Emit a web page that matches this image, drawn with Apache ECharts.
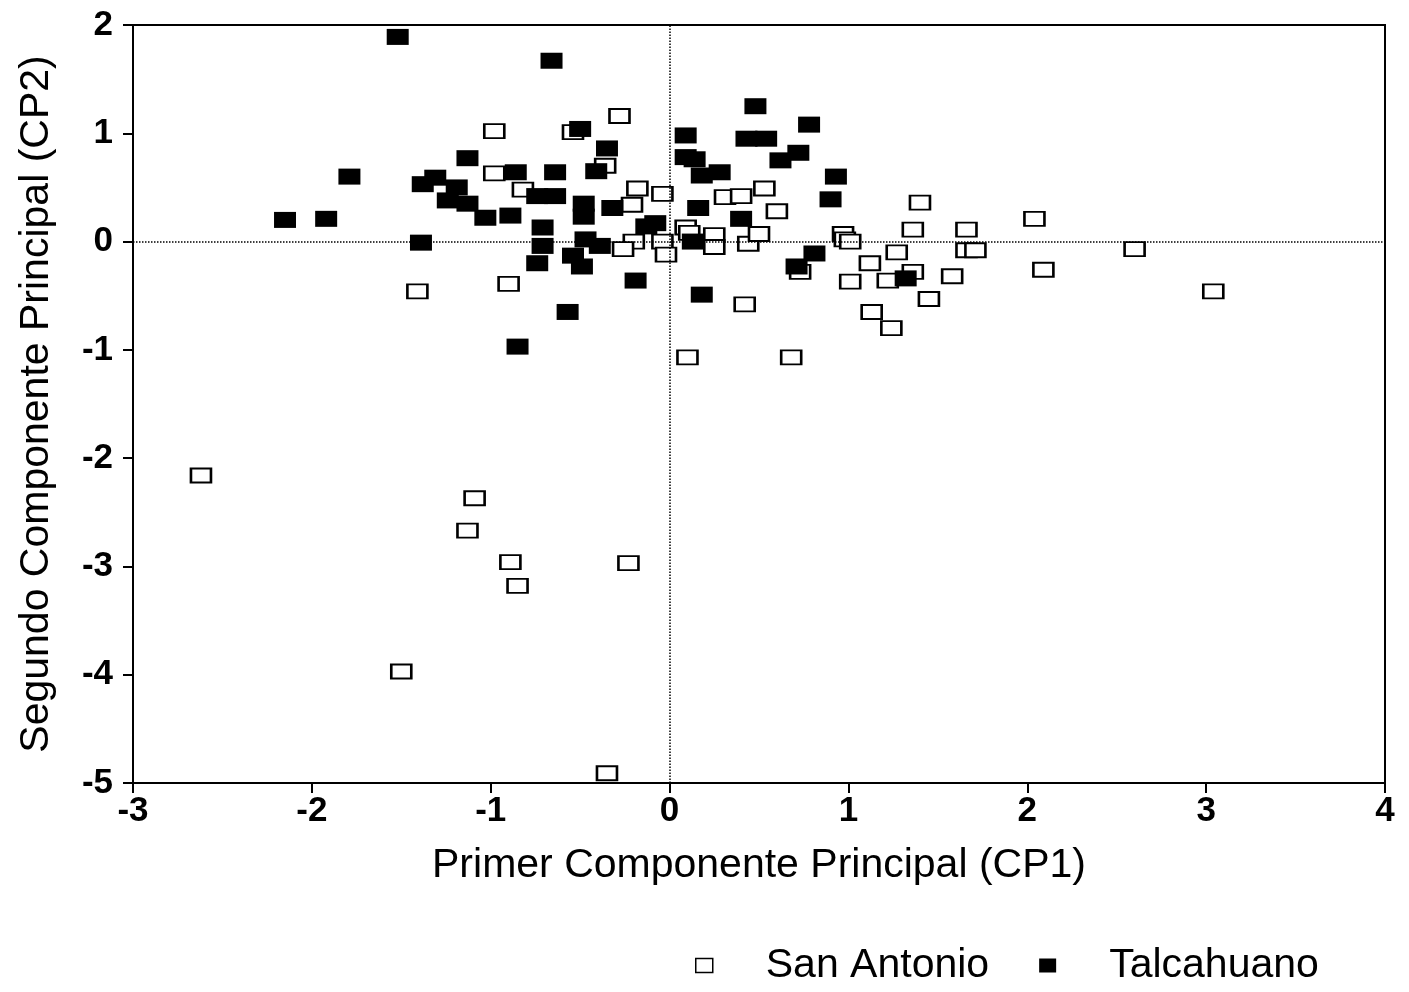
<!DOCTYPE html>
<html>
<head>
<meta charset="utf-8">
<script src="https://cdn.jsdelivr.net/npm/echarts@6/dist/echarts.min.js"></script>
<style>
  html, body { margin: 0; padding: 0; background: #fff; }
  #chart { width: 1409px; height: 992px; }
</style>
</head>
<body>
<div id="chart"></div>
<script>
// PCA scores: first (CP1) and second (CP2) principal components per sample
const seriesNames = ['San Antonio', 'Talcahuano'];

const sanAntonioCP1 = [
  -0.28, -0.98, -0.54, -0.36, -0.98, -0.82, -0.18, -0.04, -0.21, -0.20,
  -0.26, -0.04, -0.02, -1.41, -0.90, 0.09, 0.11, 0.25, 0.25, 0.44,
  0.50, 0.31, 0.40, 0.53, 0.60, 0.97, 0.98, 1.01, 0.73, 0.42,
  0.10, 0.68, 1.40, 1.36, 1.66, 1.66, 1.71, 1.27, 1.12, 1.01,
  1.22, 1.36, 1.58, 1.45, 1.13, 1.24, 2.04, 2.09, 2.60, 3.04,
  -2.62, -1.09, -1.13, -0.89, -0.85, -0.23, -1.50, -0.35
];
const sanAntonioCP2 = [
  1.16, 1.02, 1.01, 0.70, 0.63, 0.48, 0.49, 0.44, 0.34, 0.00,
  -0.07, 0.00, -0.12, -0.46, -0.39, 0.13, 0.08, 0.06, -0.05, -0.02,
  0.07, 0.41, 0.42, 0.49, 0.28, 0.07, 0.02, 0.00, -0.28, -0.58,
  -1.07, -1.07, 0.36, 0.11, 0.11, -0.08, -0.08, -0.10, -0.20, -0.37,
  -0.36, -0.28, -0.32, -0.53, -0.65, -0.80, 0.21, -0.26, -0.07, -0.46,
  -2.16, -2.37, -2.67, -2.96, -3.18, -2.97, -3.97, -4.91
];

const talcahuanoCP1 = [
  -1.52, -0.66, -2.15, -1.92, -1.79, -1.39, -1.38, -1.31, -1.19, -1.24,
  -1.13, -1.03, -0.89, -1.13, -0.86, -0.64, -0.74, -0.64, -0.50, -0.35,
  -0.41, -0.48, -0.48, -0.32, -0.71, -0.71, -0.74, -0.47, -0.39, -0.54,
  -0.49, -0.19, -0.57, -0.85, -0.13, -0.08, 0.09, 0.09, 0.14, 0.48,
  0.78, 0.43, 0.54, 0.62, 0.72, 0.18, 0.28, 0.93, 0.90, 0.16,
  0.40, 0.13, 0.81, 0.71, 0.18, 1.32
];
const talcahuanoCP2 = [
  1.89, 1.67, 0.20, 0.21, 0.60, -0.01, 0.53, 0.59, 0.50, 0.38,
  0.35, 0.22, 0.24, 0.77, 0.64, 0.64, 0.42, 0.42, 1.04, 0.86,
  0.65, 0.35, 0.23, 0.31, 0.13, -0.04, -0.20, 0.02, -0.04, -0.13,
  -0.23, -0.36, -0.65, -0.97, 0.14, 0.17, 0.98, 0.78, 0.76, 1.25,
  1.08, 0.95, 0.95, 0.75, 0.82, 0.61, 0.64, 0.60, 0.39, 0.31,
  0.21, 0.00, -0.11, -0.23, -0.49, -0.34
];

const cp1Range = [-3, 4];
const cp2Range = [-5, 2];
const xTitle = 'Primer Componente Principal (CP1)';
const yTitle = 'Segundo Componente Principal (CP2)';

const zip = (xs, ys) => xs.map((x, i) => [x, ys[i]]);

const FONT = "'Liberation Sans', Arial, Helvetica, sans-serif";
const INK = '#000';

const axisCommon = {
  type: 'value',
  interval: 1,
  splitLine: { show: false },
  axisLine: { show: true, onZero: false, lineStyle: { color: INK, width: 2 } },
  axisTick: { show: true, inside: false, length: 10, lineStyle: { color: INK, width: 2 } },
  nameLocation: 'middle',
  nameTextStyle: { color: INK, fontSize: 41, fontFamily: FONT }
};

const chart = echarts.init(document.getElementById('chart'), null, { renderer: 'canvas' });

chart.setOption({
  backgroundColor: '#fff',
  animation: false,
  grid: {
    left: 133, right: 24, top: 25, bottom: 209,
    show: true, borderColor: INK, borderWidth: 2, backgroundColor: 'transparent'
  },
  xAxis: Object.assign({}, axisCommon, {
    min: cp1Range[0], max: cp1Range[1],
    name: xTitle, nameGap: 62,
    axisLabel: { color: INK, fontSize: 35, fontWeight: 'bold', fontFamily: FONT, margin: 11 }
  }),
  yAxis: Object.assign({}, axisCommon, {
    min: cp2Range[0], max: cp2Range[1],
    name: yTitle, nameGap: 76,
    axisLabel: { color: INK, fontSize: 35, fontWeight: 'bold', fontFamily: FONT, margin: 20 }
  }),
  legend: {
    left: 690, top: 940,
    itemGap: 50,
    itemWidth: 17, itemHeight: 14,
    textStyle: { color: INK, fontSize: 41, fontFamily: FONT, padding: [0, 0, 0, 48] },
    data: [
      { name: seriesNames[0], icon: 'rect', itemStyle: { color: '#fff', borderColor: INK, borderWidth: 1.5 } },
      { name: seriesNames[1], icon: 'rect', itemStyle: { color: INK, borderWidth: 0 } }
    ]
  },
  series: [
    {
      // dotted reference lines through the origin
      type: 'scatter',
      data: [],
      silent: true,
      z: 1,
      markLine: {
        silent: true,
        symbol: 'none',
        label: { show: false },
        lineStyle: { color: INK, type: 'dotted', width: 1.5 },
        data: [{ xAxis: 0 }, { yAxis: 0 }]
      }
    },
    {
      name: seriesNames[0],
      type: 'scatter',
      z: 3,
      symbol: 'rect',
      symbolSize: [20, 14],
      itemStyle: { color: '#fff', borderColor: INK, borderWidth: 2.2, opacity: 1 },
      data: zip(sanAntonioCP1, sanAntonioCP2)
    },
    {
      name: seriesNames[1],
      type: 'scatter',
      z: 4,
      symbol: 'rect',
      symbolSize: [22, 16],
      itemStyle: { color: INK, borderWidth: 0, opacity: 1 },
      data: zip(talcahuanoCP1, talcahuanoCP2)
    }
  ]
});
</script>
</body>
</html>
